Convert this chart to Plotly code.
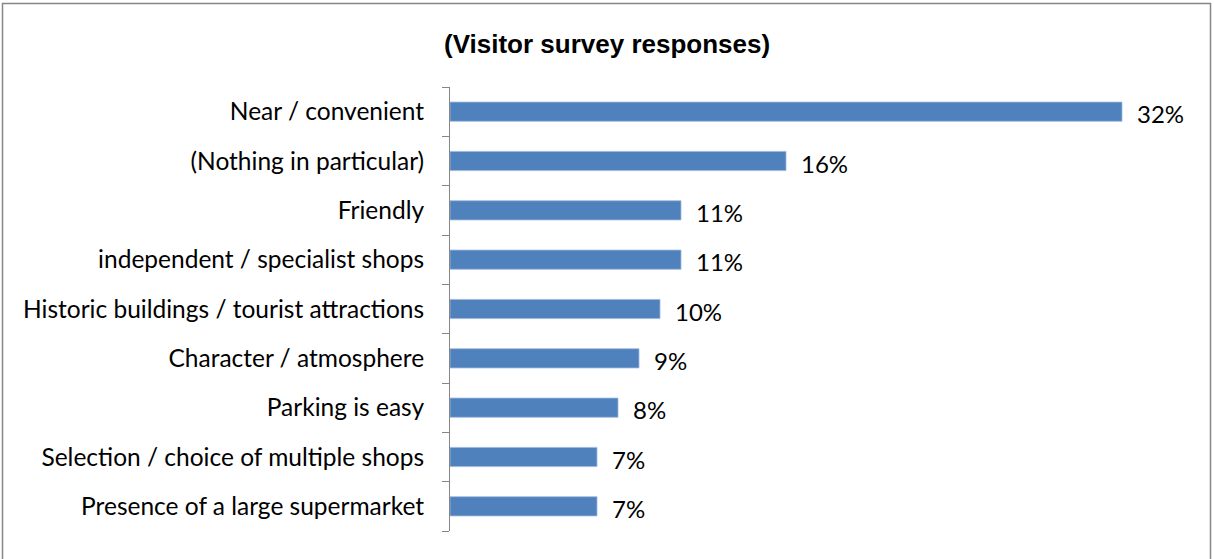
import plotly.graph_objects as go

categories = [
    "Near / convenient",
    "(Nothing in particular)",
    "Friendly",
    "independent / specialist shops",
    "Historic buildings / tourist attractions",
    "Character / atmosphere",
    "Parking is easy",
    "Selection / choice of multiple shops",
    "Presence of a large supermarket",
]
values = [32, 16, 11, 11, 10, 9, 8, 7, 7]
title_text = "(Visitor survey responses)"

W, H = 1214, 559
L, R, T, B = 450, 29, 87, 28
plot_w = W - L - R
plot_h = H - T - B

positions = list(range(len(categories)))
boundaries = [p - 0.5 for p in positions] + [positions[-1] + 0.5]

fig = go.Figure()
fig.add_trace(go.Bar(
    y=positions,
    x=values,
    orientation="h",
    marker=dict(color="#4F81BD", line=dict(color="#9DB9DE", width=0.8)),
    width=0.39,
    hoverinfo="skip",
))

label_font = dict(family="Lato", size=24, color="#000000")

annotations = [
    dict(x=v, y=p, xref="x", yref="y", text=f"{v}%", showarrow=False,
         xanchor="left", xshift=13, yshift=-2, font=label_font)
    for p, v in zip(positions, values)
]
annotations.append(dict(
    x=(W / 2 - L) / plot_w, y=(H - B - 44) / plot_h, xref="paper", yref="paper",
    text="<b>" + title_text + "</b>", showarrow=False, xanchor="center", yanchor="middle",
    font=dict(family="Liberation Sans", size=26, color="#000000"),
))

def px_x(p):
    return (p - L) / plot_w

def px_y(p):
    return (H - B - p) / plot_h

fig.update_layout(
    width=W, height=H,
    margin=dict(l=L, r=R, t=T, b=B),
    paper_bgcolor="white", plot_bgcolor="white",
    showlegend=False,
    annotations=annotations,
    shapes=[dict(type="rect", xref="paper", yref="paper",
                 x0=px_x(2.5), x1=px_x(1210.5), y0=px_y(562), y1=px_y(3.5),
                 line=dict(color="#868686", width=1.5), fillcolor="rgba(0,0,0,0)", layer="below")],
    xaxis=dict(range=[0, 35], visible=False, fixedrange=True),
    yaxis=dict(
        range=[positions[-1] + 0.5, positions[0] - 0.5],
        tickmode="array", tickvals=positions, ticktext=categories,
        ticks="",
        minor=dict(tickmode="array", tickvals=boundaries, ticks="outside",
                   ticklen=7, tickcolor="#868686", tickwidth=1, showgrid=False),
        showline=True, linecolor="#868686", linewidth=1,
        showgrid=False, zeroline=False,
        ticklabelstandoff=20,
        tickfont=dict(family="Lato", size=24.5, color="#000000"),
        fixedrange=True,
    ),
)

fig.write_html("out.html")
